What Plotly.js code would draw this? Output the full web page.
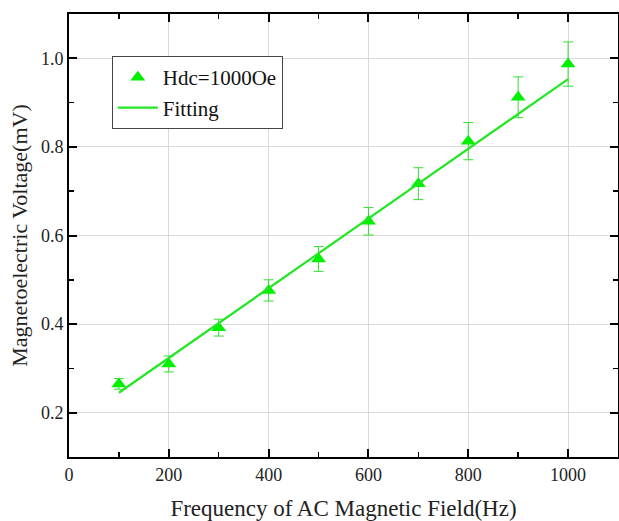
<!DOCTYPE html>
<html>
<head>
<meta charset="utf-8">
<script src="https://cdn.plot.ly/plotly-3.0.1.min.js"></script>
<style>html,body{margin:0;padding:0;background:#fff;}#chart{width:619px;height:521px;}</style>
</head>
<body>
<div id="chart"></div>
<script>
const freq = [100, 200, 300, 400, 500, 600, 700, 800, 900, 1000];
const voltage = [0.265, 0.31, 0.392, 0.476, 0.547, 0.632, 0.717, 0.813, 0.912, 0.987];
const voltageErr = [0.012, 0.018, 0.019, 0.024, 0.028, 0.031, 0.036, 0.042, 0.046, 0.05];
const fitX = [100, 1000];
const fitY = [0.245, 0.953];
const xTicks = [0, 200, 400, 600, 800, 1000];
const yTicks = [0.2, 0.4, 0.6, 0.8, 1.0];

const font = "Liberation Serif, Times New Roman, serif";

const traces = [
  {
    x: freq, y: voltage, type: 'scatter', mode: 'markers', name: 'Hdc=1000Oe',
    marker: {symbol: 'triangle-up', size: 13, color: '#00f000'},
    error_y: {type: 'data', array: voltageErr, visible: true, color: '#33dd33', thickness: 1, width: 5}
  },
  {
    x: fitX, y: fitY, type: 'scatter', mode: 'lines', name: 'Fitting',
    line: {color: '#22e622', width: 2.2}
  }
];

const axisCommon = {
  showline: true, linecolor: '#000', linewidth: 2, mirror: 'ticks',
  ticks: 'inside', ticklen: 8, tickwidth: 2, tickcolor: '#000',
  showgrid: true, gridcolor: '#d9d9d9', gridwidth: 1, zeroline: false,
  tickfont: {family: font, size: 18, color: '#222'}
};

const layout = {
  width: 619, height: 521,
  margin: {l: 69, r: 1, t: 14, b: 64},
  paper_bgcolor: '#fff', plot_bgcolor: '#fff',
  showlegend: true,
  legend: {
    x: 0.078, y: 0.905, xanchor: 'left', yanchor: 'top',
    bgcolor: '#fff', bordercolor: '#444', borderwidth: 1,
    font: {family: font, size: 21, color: '#111'}, tracegroupgap: 0,
    itemwidth: 40
  },
  xaxis: Object.assign({}, axisCommon, {
    range: [0, 1100], tickvals: xTicks, ticktext: xTicks.map(String),
    minor: {tickvals: [100, 300, 500, 700, 900, 1100], ticks: 'inside', ticklen: 5, tickwidth: 1.5, tickcolor: '#000', showgrid: false},
    title: {text: 'Frequency of AC Magnetic Field(Hz)', font: {family: font, size: 23, color: '#222'}, standoff: 16}
  }),
  yaxis: Object.assign({}, axisCommon, {
    range: [0.1, 1.1], tickvals: yTicks, ticktext: yTicks.map(v => v.toFixed(1)),
    minor: {tickvals: [0.1, 0.3, 0.5, 0.7, 0.9, 1.1], ticks: 'inside', ticklen: 5, tickwidth: 1.5, tickcolor: '#000', showgrid: false},
    title: {text: 'Magnetoelectric Voltage(mV)', font: {family: font, size: 22, color: '#222'}, standoff: 7}
  })
};

Plotly.newPlot('chart', traces, layout, {displayModeBar: false, staticPlot: true});
</script>
</body>
</html>
